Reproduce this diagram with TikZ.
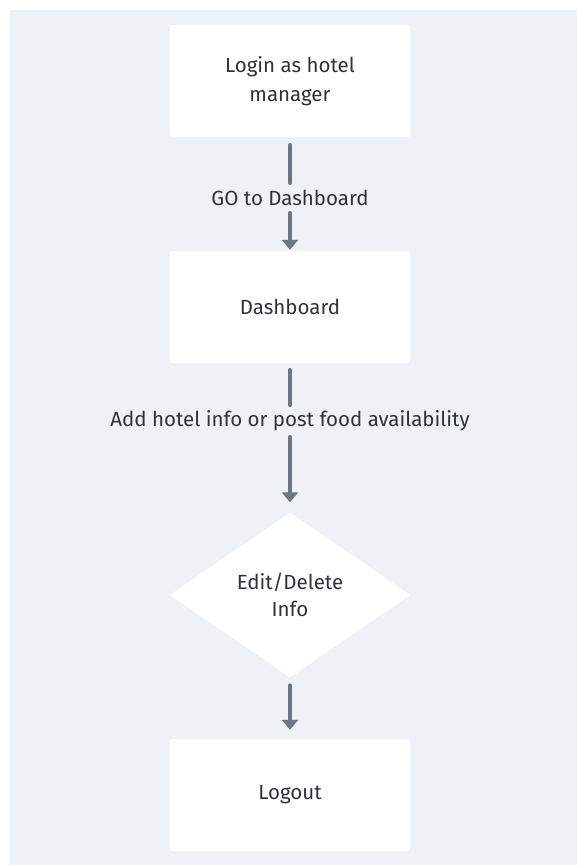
\documentclass[tikz,border=0pt]{standalone}
\usepackage{fontspec}
\setmainfont{Fira Sans}
\usetikzlibrary{shapes.geometric,arrows.meta}
\definecolor{panel}{HTML}{EEF2F6}
\definecolor{flowarrow}{HTML}{6B7783}
\definecolor{flowtext}{HTML}{2E3338}
\tikzset{
	stepbox/.style={rectangle, fill=white, rounded corners=2pt, minimum width=240pt, minimum height=112pt, inner sep=0pt, text=flowtext, align=center, font=\fontsize{20.5}{29}\selectfont},
	choicebox/.style={diamond, fill=white, minimum width=240pt, minimum height=165pt, inner sep=0pt, text=flowtext, align=center, font=\fontsize{20.5}{27}\selectfont},
	steplabel/.style={inner sep=0pt, text=flowtext, font=\fontsize{20.5}{24}\selectfont},
	flow/.style={draw=flowarrow, line width=4.5pt, line cap=round},
	flowtip/.style={flow, -{Triangle[width=16pt,length=10pt]}}
}
\begin{document}
\begin{tikzpicture}[x=1pt,y=-1pt]
	\useasboundingbox (0,0) rectangle (577,865);
	\fill[white] (0,0) rectangle (577,865);
	\fill[panel] (10,10) rectangle (577,865);
	\node[stepbox] (login) at (290,81) {Login as hotel\\manager};
	\node[stepbox] (dash) at (290,307) {Dashboard};
	\node[choicebox] (edit) at (290,595) {Edit/Delete\\Info};
	\node[stepbox] (logout) at (290,795) {Logout};
	\node[steplabel, minimum height=30pt] (go) at (290,198) {GO to Dashboard};
	\node[steplabel, minimum height=32pt] (add) at (290,421) {Add hotel info or post food availability};
	\draw[flow, shorten <=8pt] (login) -- (go);
	\draw[flowtip, shorten >=1pt] (go) -- (dash);
	\draw[flow, shorten <=7pt] (dash) -- (add);
	\draw[flowtip, shorten >=10pt] (add) -- (edit);
	\draw[flowtip, shorten <=8pt, shorten >=9pt] (edit) -- (logout);
\end{tikzpicture}
\end{document}
